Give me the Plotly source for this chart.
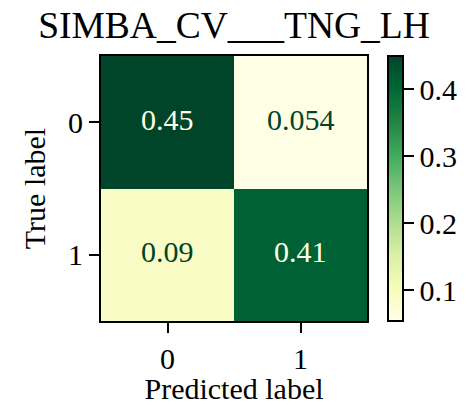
import plotly.graph_objects as go

pred_labels = ["0", "1"]
true_labels = ["0", "1"]
values = [[0.45, 0.054], [0.09, 0.41]]
cbar_ticks = [0.1, 0.2, 0.3, 0.4]
title_text = "SIMBA_CV___TNG_LH"

ylgn = ["#ffffe5", "#f7fcb9", "#d9f0a3", "#addd8e", "#78c679",
        "#41ab5d", "#238443", "#006837", "#004529"]
cscale = [[i / (len(ylgn) - 1), c] for i, c in enumerate(ylgn)]

FONT = "Liberation Serif, Times New Roman, serif"
W, H = 469, 405
L, R, T, B = 101, 102, 56, 84
plot_h = H - T - B

fig = go.Figure()
fig.add_trace(go.Heatmap(
    z=values, x=pred_labels, y=true_labels,
    colorscale=cscale, xgap=0, ygap=0,
    colorbar=dict(
        thickness=15, thicknessmode="pixels",
        len=plot_h, lenmode="pixels",
        x=(388 - L) / (W - L - R), xanchor="left",
        y=0.5, yanchor="middle", ypad=0, xpad=0,
        outlinecolor="black", outlinewidth=2,
        ticks="outside", ticklen=10, tickwidth=2, tickcolor="black",
        tickvals=cbar_ticks, tickfont=dict(family=FONT, size=30, color="black"),
    ),
    hoverinfo="skip",
))

vmin = min(min(r) for r in values)
vmax = max(max(r) for r in values)
thresh = (vmin + vmax) / 2
for i, row in enumerate(values):
    for j, v in enumerate(row):
        fig.add_annotation(
            x=pred_labels[j], y=true_labels[i], text=f"{v:.2g}",
            showarrow=False, yshift=3,
            font=dict(family=FONT, size=30, color=ylgn[0] if v > thresh else ylgn[-1]),
        )

axis_common = dict(
    showline=True, mirror=True, linewidth=2, linecolor="black",
    ticks="outside", ticklen=10, tickwidth=2, tickcolor="black",
    tickfont=dict(family=FONT, size=30, color="black"),
    showgrid=False, zeroline=False,
)
fig.update_xaxes(**axis_common, title=dict(text="Predicted label", font=dict(family=FONT, size=30, color="black"), standoff=8))
fig.update_yaxes(**axis_common, autorange="reversed",
                 title=dict(text="True label", font=dict(family=FONT, size=30, color="black"), standoff=14))

fig.update_layout(
    width=W, height=H,
    margin=dict(l=L, r=R, t=T, b=B, autoexpand=False),
    paper_bgcolor="white", plot_bgcolor="white",
    title=dict(text=title_text, x=0.5, xref="paper", y=1 - 25 / H, yanchor="middle",
               font=dict(family=FONT, size=37.5, color="black")),
    font=dict(family=FONT),
)
fig.write_html("out.html")
